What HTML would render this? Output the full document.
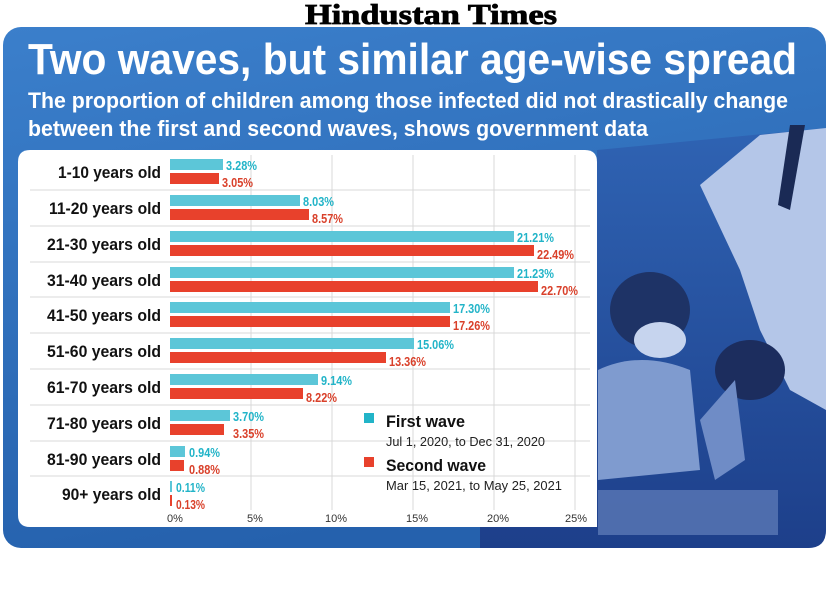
<!DOCTYPE html>
<html><head><meta charset="utf-8"><style>
html,body{margin:0;padding:0;background:#fff;width:831px;height:605px;overflow:hidden}
svg{display:block}
</style></head><body>
<svg width="831" height="605" viewBox="0 0 831 605" xmlns="http://www.w3.org/2000/svg">
<defs>
<linearGradient id="bg" x1="0" y1="0" x2="0.3" y2="1">
<stop offset="0" stop-color="#3b7fcb"/><stop offset="1" stop-color="#2561ad"/>
</linearGradient>
<linearGradient id="ph" x1="0" y1="0" x2="0" y2="1">
<stop offset="0" stop-color="#2f63b3"/><stop offset="1" stop-color="#1d3f8a"/>
</linearGradient>
</defs>
<text x="431" y="24" text-anchor="middle" font-family="Liberation Serif,serif" font-weight="bold" font-size="28" textLength="252" lengthAdjust="spacingAndGlyphs" fill="#000" stroke="#000" stroke-width="0.8">Hindustan Times</text>
<rect x="3" y="27" width="823" height="521" rx="18" fill="url(#bg)"/>
<path d="M597 150 L826 128 L826 530 Q826 548 808 548 L480 548 L480 527 L597 527 Z" fill="url(#ph)"/>
<path d="M700 185 L760 135 L826 128 L826 410 L790 390 L760 330 L740 270 Z" fill="#b4c6e8"/>
<path d="M790 125 L805 125 L790 210 L778 205 Z" fill="#1a2a55"/>
<ellipse cx="650" cy="310" rx="40" ry="38" fill="#1e3366"/>
<ellipse cx="660" cy="340" rx="26" ry="18" fill="#c6d4ee"/>
<path d="M598 370 Q640 350 690 370 L700 470 L598 480 Z" fill="#7f9bcf"/>
<ellipse cx="750" cy="370" rx="35" ry="30" fill="#1c2d5e"/>
<path d="M700 420 L735 380 L745 460 L715 480 Z" fill="#6f8cc6"/>
<rect x="598" y="490" width="180" height="45" fill="#5a78b5" opacity="0.8"/>
<path d="M30 150 L585 150 Q597 150 597 162 L597 527 L30 527 Q18 527 18 515 L18 162 Q18 150 30 150 Z" fill="#fff"/>
<g font-family="Liberation Sans,sans-serif" fill="#fff" font-weight="bold">
<text x="28" y="74" font-size="44" textLength="769" lengthAdjust="spacingAndGlyphs">Two waves, but similar age-wise spread</text>
<text x="28" y="108" font-size="22" textLength="760" lengthAdjust="spacingAndGlyphs">The proportion of children among those infected did not drastically change</text>
<text x="28" y="136" font-size="22" textLength="620" lengthAdjust="spacingAndGlyphs">between the first and second waves, shows government data</text>
</g>
<g stroke="#d8d8d8" stroke-width="1">
<line x1="251" y1="155" x2="251" y2="510"/><line x1="332" y1="155" x2="332" y2="510"/>
<line x1="413" y1="155" x2="413" y2="510"/><line x1="494" y1="155" x2="494" y2="510"/>
<line x1="575" y1="155" x2="575" y2="510"/>
<line x1="30" y1="190" x2="590" y2="190"/><line x1="30" y1="226" x2="590" y2="226"/>
<line x1="30" y1="262" x2="590" y2="262"/><line x1="30" y1="297" x2="590" y2="297"/>
<line x1="30" y1="333" x2="590" y2="333"/><line x1="30" y1="369" x2="590" y2="369"/>
<line x1="30" y1="405" x2="590" y2="405"/><line x1="30" y1="441" x2="590" y2="441"/>
<line x1="30" y1="476" x2="590" y2="476"/>
</g>
<g font-family="Liberation Sans,sans-serif" font-weight="bold">
<g font-size="17" fill="#111" lengthAdjust="spacingAndGlyphs">
<text x="58" y="178" textLength="103" lengthAdjust="spacingAndGlyphs">1-10 years old</text>
<text x="49" y="214" textLength="112" lengthAdjust="spacingAndGlyphs">11-20 years old</text>
<text x="47" y="250" textLength="114" lengthAdjust="spacingAndGlyphs">21-30 years old</text>
<text x="47" y="286" textLength="114" lengthAdjust="spacingAndGlyphs">31-40 years old</text>
<text x="47" y="321" textLength="114" lengthAdjust="spacingAndGlyphs">41-50 years old</text>
<text x="47" y="357" textLength="114" lengthAdjust="spacingAndGlyphs">51-60 years old</text>
<text x="47" y="393" textLength="114" lengthAdjust="spacingAndGlyphs">61-70 years old</text>
<text x="47" y="429" textLength="114" lengthAdjust="spacingAndGlyphs">71-80 years old</text>
<text x="47" y="465" textLength="114" lengthAdjust="spacingAndGlyphs">81-90 years old</text>
<text x="62" y="500" textLength="99" lengthAdjust="spacingAndGlyphs">90+ years old</text>
</g>
<g fill="#5cc6d8">
<rect x="170" y="159" width="53" height="11"/><rect x="170" y="195" width="130" height="11"/>
<rect x="170" y="231" width="344" height="11"/><rect x="170" y="267" width="344" height="11"/>
<rect x="170" y="302" width="280" height="11"/><rect x="170" y="338" width="244" height="11"/>
<rect x="170" y="374" width="148" height="11"/><rect x="170" y="410" width="60" height="11"/>
<rect x="170" y="446" width="15" height="11"/><rect x="170" y="481" width="2" height="11"/>
</g>
<g fill="#e8412c">
<rect x="170" y="173" width="49" height="11"/><rect x="170" y="209" width="139" height="11"/>
<rect x="170" y="245" width="364" height="11"/><rect x="170" y="281" width="368" height="11"/>
<rect x="170" y="316" width="280" height="11"/><rect x="170" y="352" width="216" height="11"/>
<rect x="170" y="388" width="133" height="11"/><rect x="170" y="424" width="54" height="11"/>
<rect x="170" y="460" width="14" height="11"/><rect x="170" y="495" width="2" height="11"/>
</g>
<g font-size="13" fill="#22b4c8">
<text x="226" y="170" textLength="31" lengthAdjust="spacingAndGlyphs">3.28%</text><text x="303" y="206" textLength="31" lengthAdjust="spacingAndGlyphs">8.03%</text>
<text x="517" y="242" textLength="37" lengthAdjust="spacingAndGlyphs">21.21%</text><text x="517" y="278" textLength="37" lengthAdjust="spacingAndGlyphs">21.23%</text>
<text x="453" y="313" textLength="37" lengthAdjust="spacingAndGlyphs">17.30%</text><text x="417" y="349" textLength="37" lengthAdjust="spacingAndGlyphs">15.06%</text>
<text x="321" y="385" textLength="31" lengthAdjust="spacingAndGlyphs">9.14%</text><text x="233" y="421" textLength="31" lengthAdjust="spacingAndGlyphs">3.70%</text>
<text x="189" y="457" textLength="31" lengthAdjust="spacingAndGlyphs">0.94%</text><text x="176" y="492" textLength="29" lengthAdjust="spacingAndGlyphs">0.11%</text>
</g>
<g font-size="13" fill="#d9402a">
<text x="222" y="187" textLength="31" lengthAdjust="spacingAndGlyphs">3.05%</text><text x="312" y="223" textLength="31" lengthAdjust="spacingAndGlyphs">8.57%</text>
<text x="537" y="259" textLength="37" lengthAdjust="spacingAndGlyphs">22.49%</text><text x="541" y="295" textLength="37" lengthAdjust="spacingAndGlyphs">22.70%</text>
<text x="453" y="330" textLength="37" lengthAdjust="spacingAndGlyphs">17.26%</text><text x="389" y="366" textLength="37" lengthAdjust="spacingAndGlyphs">13.36%</text>
<text x="306" y="402" textLength="31" lengthAdjust="spacingAndGlyphs">8.22%</text><text x="233" y="438" textLength="31" lengthAdjust="spacingAndGlyphs">3.35%</text>
<text x="189" y="474" textLength="31" lengthAdjust="spacingAndGlyphs">0.88%</text><text x="176" y="509" textLength="29" lengthAdjust="spacingAndGlyphs">0.13%</text>
</g>
<rect x="364" y="413" width="10" height="10" fill="#22b4c8"/>
<rect x="364" y="457" width="10" height="10" fill="#e8412c"/>
<text x="386" y="427" font-size="17" fill="#111" textLength="79" lengthAdjust="spacingAndGlyphs">First wave</text>
<text x="386" y="471" font-size="17" fill="#111" textLength="100" lengthAdjust="spacingAndGlyphs">Second wave</text>
</g>
<g font-family="Liberation Sans,sans-serif" fill="#222" font-size="12.5">
<text x="386" y="446" textLength="159" lengthAdjust="spacingAndGlyphs">Jul 1, 2020, to Dec 31, 2020</text>
<text x="386" y="490" textLength="176" lengthAdjust="spacingAndGlyphs">Mar 15, 2021, to May 25, 2021</text>
</g>
<g font-family="Liberation Sans,sans-serif" fill="#333" font-size="11" text-anchor="middle">
<text x="175" y="522">0%</text><text x="255" y="522">5%</text><text x="336" y="522">10%</text>
<text x="417" y="522">15%</text><text x="498" y="522">20%</text><text x="576" y="522">25%</text>
</g>
</svg>
</body></html>
